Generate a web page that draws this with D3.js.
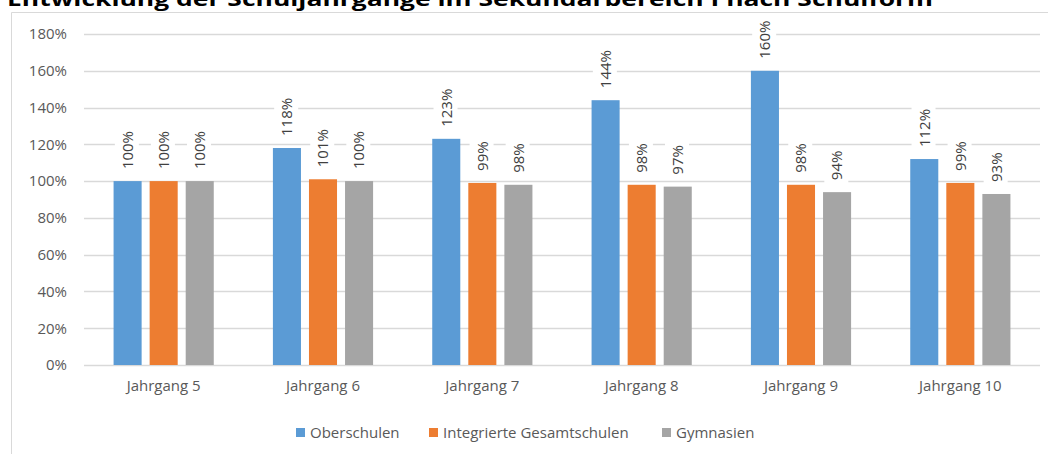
<!DOCTYPE html>
<html>
<head>
<meta charset="utf-8">
<script src="https://cdn.jsdelivr.net/npm/d3@7"></script>
<style>
  body { margin: 0; background: #fff; }
  svg text { font-family: "Open Sans", sans-serif; }
</style>
</head>
<body>
<div id="chart"></div>
<script>
// Data
const categories = ["Jahrgang 5", "Jahrgang 6", "Jahrgang 7", "Jahrgang 8", "Jahrgang 9", "Jahrgang 10"];
const seriesNames = ["Oberschulen", "Integrierte Gesamtschulen", "Gymnasien"];
const oberschulen = [100, 118, 123, 144, 160, 112];
const gesamtschulen = [100, 101, 99, 98, 98, 99];
const gymnasien = [100, 100, 98, 97, 94, 93];
const yTicks = [0, 20, 40, 60, 80, 100, 120, 140, 160, 180];
const colors = ["#5b9bd5", "#ed7d31", "#a5a5a5"];

const seriesValues = [oberschulen, gesamtschulen, gymnasien];

const W = 1048, H = 454;
const margin = { top: 34, right: 8, bottom: 89, left: 84 };
const width = W - margin.left - margin.right;
const height = H - margin.top - margin.bottom;

const svg = d3.select("#chart").append("svg")
    .attr("width", W)
    .attr("height", H);

// chart frame (only top and left edges visible)
svg.append("line")
    .attr("x1", 11.5).attr("x2", W)
    .attr("y1", 12.5).attr("y2", 12.5)
    .attr("stroke", "#d9d9d9");
svg.append("line")
    .attr("x1", 11.5).attr("x2", 11.5)
    .attr("y1", 12.5).attr("y2", H)
    .attr("stroke", "#d9d9d9");

// title, partly cut off at the top (as in the source image)
svg.append("text")
    .attr("x", 7)
    .attr("y", 6)
    .attr("textLength", 926)
    .attr("lengthAdjust", "spacingAndGlyphs")
    .style("font-size", "20px")
    .style("font-weight", "bold")
    .attr("fill", "#000")
    .text("Entwicklung der Schuljahrgänge im Sekundarbereich I nach Schulform");

const g = svg.append("g")
    .attr("transform", `translate(${margin.left},${margin.top})`);

// Scales
const x = d3.scaleBand()
    .domain(categories)
    .range([0, width])
    .padding(0);

const x1 = d3.scaleBand()
    .domain(seriesNames)
    .range([0, x.bandwidth()])
    .paddingInner(8 / 36)
    .paddingOuter(0.82);

const y = d3.scaleLinear()
    .domain([0, 180])
    .range([height, 0]);

// gridlines
g.selectAll(".grid")
    .data(yTicks)
    .join("line")
    .attr("class", "grid")
    .attr("x1", 0).attr("x2", width)
    .attr("y1", d => Math.round(y(d)) + 0.5)
    .attr("y2", d => Math.round(y(d)) + 0.5)
    .attr("stroke", "#d9d9d9")
    .attr("stroke-width", 1.3);

// y axis labels
const yAxis = d3.axisLeft(y)
    .tickValues(yTicks)
    .tickFormat(d => d + "%")
    .tickSize(0)
    .tickPadding(17);

g.append("g")
    .attr("class", "y-axis")
    .call(yAxis)
    .call(a => a.select(".domain").remove())
    .selectAll("text")
    .style("font-size", "15px")
    .attr("fill", "#595959");

// x axis labels
const xAxis = d3.axisBottom(x)
    .tickSize(0)
    .tickPadding(15);

g.append("g")
    .attr("class", "x-axis")
    .attr("transform", `translate(0,${height})`)
    .call(xAxis)
    .call(a => a.select(".domain").remove())
    .selectAll("text")
    .style("font-size", "15px")
    .attr("fill", "#595959");

// flatten data
const rows = [];
categories.forEach((c, i) => {
    seriesNames.forEach((s, j) => {
        rows.push({ cat: c, series: s, value: seriesValues[j][i], color: colors[j] });
    });
});

// Bars
g.selectAll(".bar")
    .data(rows)
    .join("rect")
    .attr("class", "bar")
    .attr("x", d => x(d.cat) + x1(d.series))
    .attr("y", d => y(d.value))
    .attr("width", x1.bandwidth())
    .attr("height", d => y(0) - y(d.value))
    .attr("fill", d => d.color);

// Data labels (rotated, with white background)
const labels = g.selectAll(".label")
    .data(rows)
    .join("g")
    .attr("class", "label")
    .attr("transform", d => `translate(${x(d.cat) + x1(d.series) + x1.bandwidth() / 2},${y(d.value) - 12}) rotate(-90)`);

labels.append("text")
    .attr("x", 0)
    .attr("y", 0)
    .attr("dy", "0.35em")
    .style("font-size", "15px")
    .attr("fill", "#404040")
    .text(d => d.value + "%")
    .each(function () {
        const bb = this.getBBox();
        d3.select(this.parentNode).insert("rect", "text")
            .attr("x", bb.x - 4)
            .attr("y", bb.y - 2)
            .attr("width", bb.width + 8)
            .attr("height", bb.height + 4)
            .attr("fill", "#fff");
    });

// Legend
const legendItems = [
    { name: seriesNames[0], color: colors[0], x: 296 },
    { name: seriesNames[1], color: colors[1], x: 429 },
    { name: seriesNames[2], color: colors[2], x: 662 }
];

const legend = svg.append("g").attr("class", "legend");

legend.selectAll("rect")
    .data(legendItems)
    .join("rect")
    .attr("x", d => d.x)
    .attr("y", 428)
    .attr("width", 9)
    .attr("height", 9)
    .attr("fill", d => d.color);

legend.selectAll("text")
    .data(legendItems)
    .join("text")
    .attr("x", d => d.x + 14)
    .attr("y", 438)
    .style("font-size", "15px")
    .attr("fill", "#595959")
    .text(d => d.name);
</script>
</body>
</html>
